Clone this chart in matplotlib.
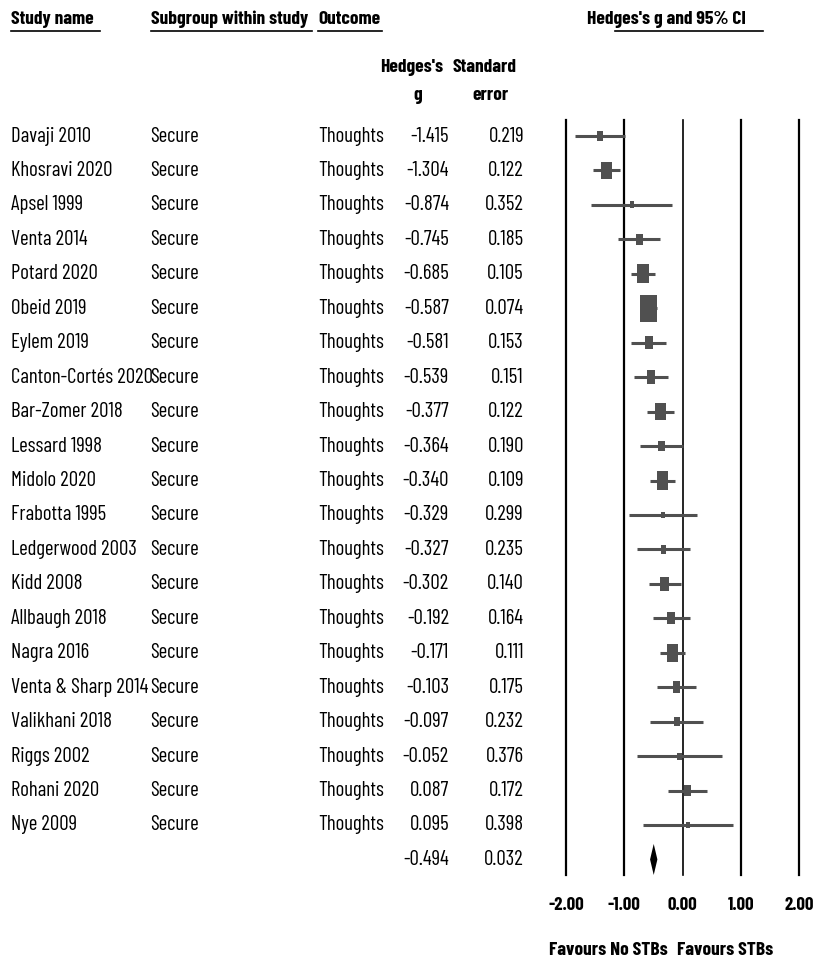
import matplotlib
matplotlib.use("Agg")
import matplotlib.pyplot as plt
import numpy as np

FONT = ["Barlow Condensed", "Archivo Narrow", "DejaVu Sans"]
plt.rcParams["font.family"] = FONT

studies = ["Davaji 2010", "Khosravi 2020", "Apsel 1999", "Venta 2014", "Potard 2020",
           "Obeid 2019", "Eylem 2019", "Canton-Cortés 2020", "Bar-Zomer 2018", "Lessard 1998",
           "Midolo 2020", "Frabotta 1995", "Ledgerwood 2003", "Kidd 2008", "Allbaugh 2018",
           "Nagra 2016", "Venta & Sharp 2014", "Valikhani 2018", "Riggs 2002", "Rohani 2020",
           "Nye 2009"]
g = [-1.415, -1.304, -0.874, -0.745, -0.685, -0.587, -0.581, -0.539, -0.377, -0.364,
     -0.340, -0.329, -0.327, -0.302, -0.192, -0.171, -0.103, -0.097, -0.052, 0.087, 0.095]
se = [0.219, 0.122, 0.352, 0.185, 0.105, 0.074, 0.153, 0.151, 0.122, 0.190,
      0.109, 0.299, 0.235, 0.140, 0.164, 0.111, 0.175, 0.232, 0.376, 0.172, 0.398]
summary_g = -0.494
summary_se = 0.032
ticks = [-2, -1, 0, 1, 2]
tick_labels = ["-2.00", "-1.00", "0.00", "1.00", "2.00"]

W, H = 814, 971
fig = plt.figure(figsize=(W / 100, H / 100), dpi=100)

# forest panel: x from -2 (px 566) to 2 (px 799), y from px 120 to 875
top_px, bot_px = 120, 875
row0_px, row_step = 136, 34.45
ax = fig.add_axes([566 / W, 1 - bot_px / H, (799 - 566) / W, (bot_px - top_px) / H])
ax.set_xlim(-2, 2)
ax.set_ylim((bot_px - row0_px) / row_step, (top_px - row0_px) / row_step)
for s in ax.spines.values():
    s.set_visible(False)
for t in ticks:
    ax.axvline(t, color="black", lw=1.6 if t != 0 else 1.2, clip_on=False)

gray = "#505050"
n = len(studies)
for i in range(n):
    lo = g[i] - 1.96 * se[i]
    hi = g[i] + 1.96 * se[i]
    ax.plot([lo, hi], [i, i], color=gray, lw=2.2, solid_capstyle="butt")
    w = 1 / se[i] ** 2
    bw = 1.26 * np.sqrt(w) / 58.25  # box width in data units
    bh = 1.6 * 1.26 * np.sqrt(w) / row_step
    bw = max(bw, 0.07)
    bh = max(bh, 0.2)
    ax.add_patch(plt.Rectangle((g[i] - bw / 2, i - bh / 2), bw, bh, color=gray, lw=0))

ys = n
dlo = summary_g - 1.96 * summary_se
dhi = summary_g + 1.96 * summary_se
ax.fill([dlo, summary_g, dhi, summary_g], [ys, ys - 0.45, ys, ys + 0.45], color="black", lw=0)

ax.set_xticks(ticks)
ax.set_xticklabels(tick_labels, fontsize=13.5, fontweight="bold")
ax.tick_params(axis="x", length=0, pad=16)
ax.set_yticks([])

# table text in figure pixels
def ftext(x, y, s, **kw):
    fig.text(x / W, 1 - y / H, s, va="center", **kw)

def uline(x0, x1, y):
    fig.add_artist(plt.Line2D([x0 / W, x1 / W], [1 - y / H, 1 - y / H], color="black", lw=1.2))

hb = dict(fontsize=14, fontweight="bold")
ftext(11, 19, "Study name", **hb)
uline(11, 100, 31)
ftext(151, 19, "Subgroup within study", **hb)
uline(151, 312, 31)
ftext(318, 19, "Outcome", **hb)
uline(318, 382, 31)
ftext(587, 19, "Hedges's g and 95% CI", **hb)
uline(615, 763, 31)

ftext(412, 68, "Hedges's", ha="center", **hb)
ftext(418, 95, "g", ha="center", **hb)
ftext(485, 68, "Standard", ha="center", **hb)
ftext(490, 95, "error", ha="center", **hb)

fs = 15
for i in range(n):
    y = row0_px + i * row_step
    ftext(11, y, studies[i], fontsize=fs)
    ftext(150, y, "Secure", fontsize=fs)
    ftext(318, y, "Thoughts", fontsize=fs)
    ftext(449, y, f"{g[i]:.3f}", fontsize=fs, ha="right")
    ftext(524, y, f"{se[i]:.3f}", fontsize=fs, ha="right")
ys_px = row0_px + n * row_step
ftext(449, ys_px, f"{summary_g:.3f}", fontsize=fs, ha="right")
ftext(524, ys_px, f"{summary_se:.3f}", fontsize=fs, ha="right")

ftext(608, 950, "Favours No STBs", ha="center", **hb)
ftext(725, 950, "Favours STBs", ha="center", **hb)

fig.savefig("out.png", dpi=100)
